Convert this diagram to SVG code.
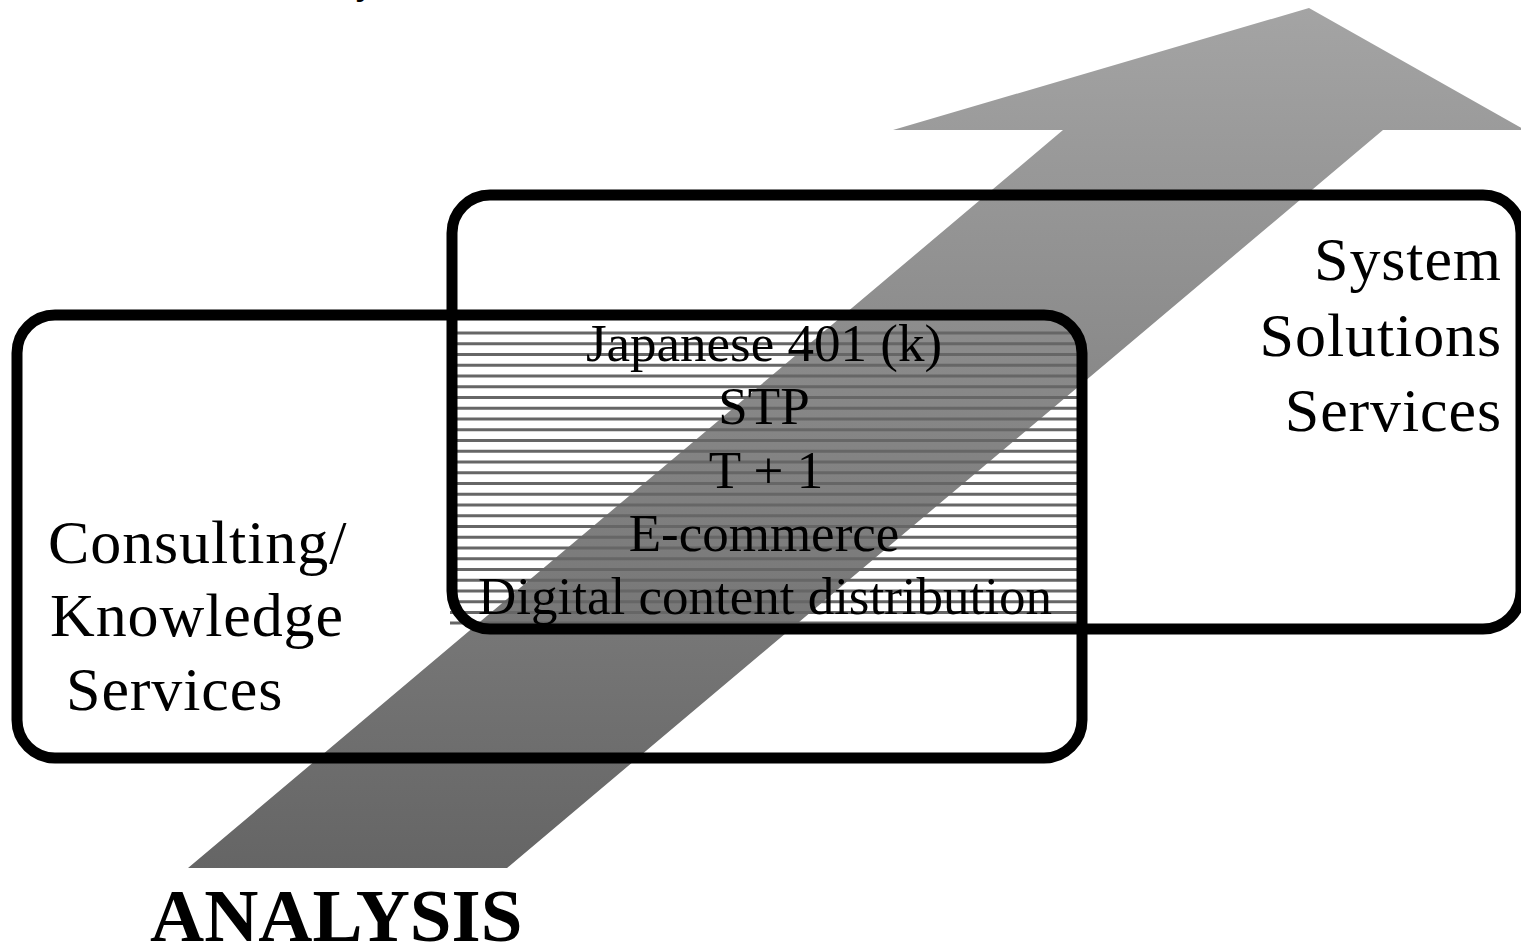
<svg xmlns="http://www.w3.org/2000/svg" width="1521" height="949" viewBox="0 0 1521 949">
  <style>
    .box { fill: none; stroke: #000; stroke-width: 11; }
    .t { font-family: "Liberation Serif", "Times New Roman", serif; fill: #000; }
    .mid { font-size: 53px; text-anchor: middle; }
    .side { font-size: 62px; letter-spacing: 0.9px; }
    .hatch line { stroke: #666; stroke-width: 3; }
  </style>
  <defs>
    <linearGradient id="arrowGrad" gradientUnits="userSpaceOnUse" x1="0" y1="868" x2="0" y2="8">
      <stop offset="0" stop-color="#656565"/>
      <stop offset="1" stop-color="#a4a4a4"/>
    </linearGradient>
  </defs>
  <rect width="1521" height="949" fill="#fff"/>
  <text class="t" x="356" y="-7" font-size="40">y</text>
  <g id="connectors">
    <polygon id="arrow" fill="url(#arrowGrad)" points="188,868 1063,130 893,130 1309,8 1525,130 1383,130 507,868"/>
  </g>
  <g id="overlap">
    <g class="hatch">
      <line x1="450" y1="333" x2="1080" y2="333"/>
      <line x1="450" y1="343.75" x2="1080" y2="343.75"/>
      <line x1="450" y1="354.5" x2="1080" y2="354.5"/>
      <line x1="450" y1="365.25" x2="1080" y2="365.25"/>
      <line x1="450" y1="376" x2="1080" y2="376"/>
      <line x1="450" y1="386.75" x2="1080" y2="386.75"/>
      <line x1="450" y1="397.5" x2="1080" y2="397.5"/>
      <line x1="450" y1="408.25" x2="1080" y2="408.25"/>
      <line x1="450" y1="419" x2="1080" y2="419"/>
      <line x1="450" y1="429.75" x2="1080" y2="429.75"/>
      <line x1="450" y1="440.5" x2="1080" y2="440.5"/>
      <line x1="450" y1="451.25" x2="1080" y2="451.25"/>
      <line x1="450" y1="462" x2="1080" y2="462"/>
      <line x1="450" y1="472.75" x2="1080" y2="472.75"/>
      <line x1="450" y1="483.5" x2="1080" y2="483.5"/>
      <line x1="450" y1="494.25" x2="1080" y2="494.25"/>
      <line x1="450" y1="505" x2="1080" y2="505"/>
      <line x1="450" y1="515.75" x2="1080" y2="515.75"/>
      <line x1="450" y1="526.5" x2="1080" y2="526.5"/>
      <line x1="450" y1="537.25" x2="1080" y2="537.25"/>
      <line x1="450" y1="548" x2="1080" y2="548"/>
      <line x1="450" y1="558.75" x2="1080" y2="558.75"/>
      <line x1="450" y1="569.5" x2="1080" y2="569.5"/>
      <line x1="450" y1="580.25" x2="1080" y2="580.25"/>
      <line x1="450" y1="591" x2="1080" y2="591"/>
      <line x1="450" y1="601.75" x2="1080" y2="601.75"/>
      <line x1="450" y1="612.5" x2="1080" y2="612.5"/>
      <line x1="450" y1="623" x2="1080" y2="623"/>
    </g>
  </g>
  <g id="consulting">
    <rect class="box" x="17" y="315" width="1065" height="443" rx="38" ry="38"/>
    <text class="t side" x="48" y="563">Consulting/</text>
    <text class="t side" x="50" y="636">Knowledge</text>
    <text class="t side" x="66" y="710">Services</text>
  </g>
  <g id="system">
    <rect class="box" x="452" y="195" width="1069" height="434" rx="38" ry="38"/>
    <text class="t side" x="1502" y="280" text-anchor="end">System</text>
    <text class="t side" x="1502" y="356" text-anchor="end">Solutions</text>
    <text class="t side" x="1502" y="431" text-anchor="end">Services</text>
  </g>
  <g id="overlap-text">
    <text class="t mid" x="764" y="361">Japanese 401 (k)</text>
    <text class="t mid" x="764" y="424">STP</text>
    <text class="t mid" x="766" y="488">T + 1</text>
    <text class="t mid" x="764" y="551">E-commerce</text>
    <text class="t mid" x="765" y="614">Digital content distribution</text>
  </g>
  <g id="analysis">
    <text class="t" x="150" y="941" font-size="75" font-weight="bold">ANALYSIS</text>
  </g>
</svg>
